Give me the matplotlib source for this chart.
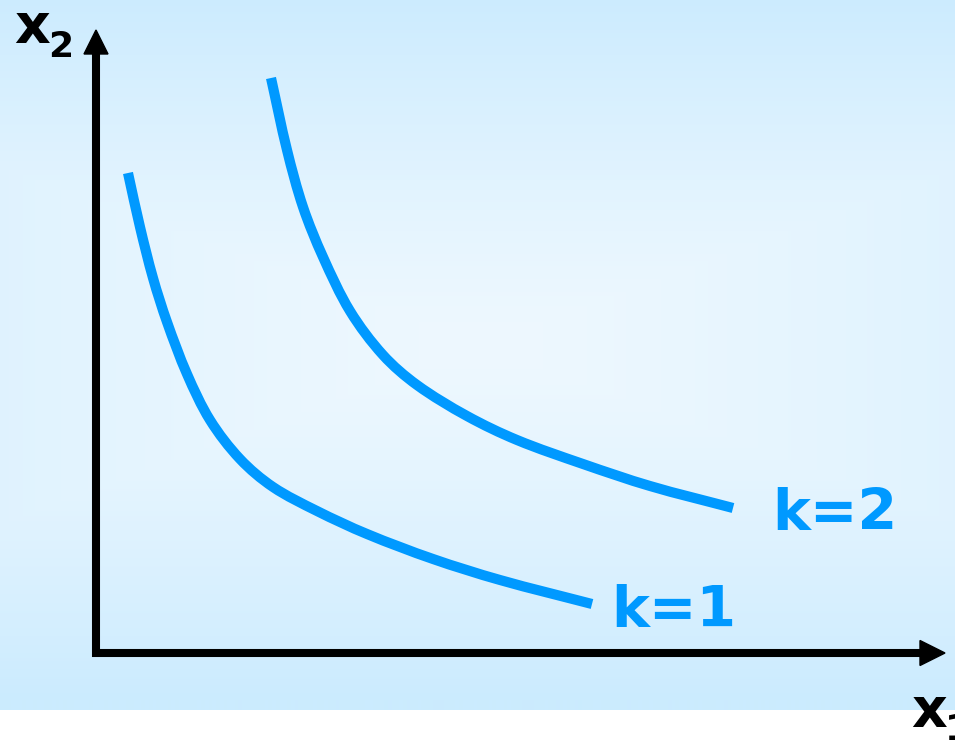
import numpy as np
import matplotlib
matplotlib.use("Agg")
import matplotlib.pyplot as plt
from matplotlib.patches import Polygon, PathPatch
from matplotlib.path import Path

# ---- data (origin at the axes corner, units ~ pixels) ----
k1_x1 = [32, 44, 57, 71, 91, 114, 144, 177, 221, 271, 337, 404, 496]
k1_x2 = [480, 426, 375, 331, 279, 233, 194, 166, 142, 119, 94, 73, 49]
k2_x1 = [175, 191, 207, 227, 254, 287, 321, 371, 421, 487, 554, 637]
k2_x2 = [575, 503, 446, 396, 342, 298, 268, 237, 213, 189, 167, 145]
curve_labels = ["k=1", "k=2"]
axis_labels = ["x", "x"]
axis_subs = ["1", "2"]

BLUE = "#0099FF"

fig = plt.figure(figsize=(9.55, 7.4), dpi=100)
ax = fig.add_axes([0, 0, 1, 1])
ax.set_xlim(-96, 859)
ax.set_ylim(-87, 653)
ax.axis("off")

# background gradient (light centre, mostly vertical)
W, H = 955, 710
yy, xx = np.mgrid[0:H, 0:W]
cx, cy = 480, 345
t = np.maximum(np.abs(yy - cy) / 355.0, 0.5 * np.abs(xx - cx) / (W / 2))
t = np.clip(t, 0, 1) ** 1.3
c0 = np.array([238, 248, 255]) / 255
c1 = np.array([203, 235, 254]) / 255
img = c0[None, None, :] * (1 - t[..., None]) + c1[None, None, :] * t[..., None]
ax.imshow(img, extent=(-96, 859, -57, 653), origin="upper", aspect="auto", zorder=0)

# axes
lw_ax = 5.8
ax.plot([0, 0], [-4, 602], color="black", lw=lw_ax, solid_capstyle="butt", zorder=3)
ax.plot([-4, 826], [0, 0], color="black", lw=lw_ax, solid_capstyle="butt", zorder=3)
ax.add_patch(Polygon([[-12, 599], [12, 599], [0, 623]], closed=True, color="black", zorder=3))
ax.add_patch(Polygon([[824, -12.5], [824, 12.5], [849, 0]], closed=True, color="black", zorder=3))


def smooth_path(xs, ys):
    """Smooth curve through the points (chord-length Hermite -> cubic Bezier)."""
    p = np.column_stack([xs, ys]).astype(float)
    n = len(p)
    d = np.hypot(*np.diff(p, axis=0).T)
    m = np.zeros_like(p)
    m[0] = (p[1] - p[0]) / d[0]
    m[-1] = (p[-1] - p[-2]) / d[-1]
    for i in range(1, n - 1):
        m[i] = (p[i + 1] - p[i - 1]) / (d[i - 1] + d[i])
    verts = [tuple(p[0])]
    codes = [Path.MOVETO]
    for i in range(n - 1):
        c1_ = p[i] + m[i] * d[i] / 3.0
        c2_ = p[i + 1] - m[i + 1] * d[i] / 3.0
        verts += [tuple(c1_), tuple(c2_), tuple(p[i + 1])]
        codes += [Path.CURVE4] * 3
    return Path(verts, codes)


for xs, ys in [(k1_x1, k1_x2), (k2_x1, k2_x2)]:
    ax.add_patch(PathPatch(smooth_path(xs, ys), fill=False, edgecolor=BLUE, lw=7.3,
                           capstyle="butt", joinstyle="round", zorder=2))

font = dict(family="DejaVu Sans", weight="bold")
ax.text(k1_x1[-1] + 19, k1_x2[-1] - 23, curve_labels[0], color=BLUE, fontsize=41,
        ha="left", va="baseline", **font)
ax.text(k2_x1[-1] + 39, k2_x2[-1] - 22, curve_labels[1], color=BLUE, fontsize=41,
        ha="left", va="baseline", **font)

# axis labels
ax.text(-82, 610, axis_labels[1], fontsize=40, ha="left", va="baseline", **font)
ax.text(-48, 596, axis_subs[1], fontsize=26, ha="left", va="baseline", **font)
ax.text(815, -74, axis_labels[0], fontsize=40, ha="left", va="baseline", **font)
ax.text(849, -87, axis_subs[0], fontsize=26, ha="left", va="baseline", **font)

fig.savefig("out.png", dpi=100, facecolor="white")
